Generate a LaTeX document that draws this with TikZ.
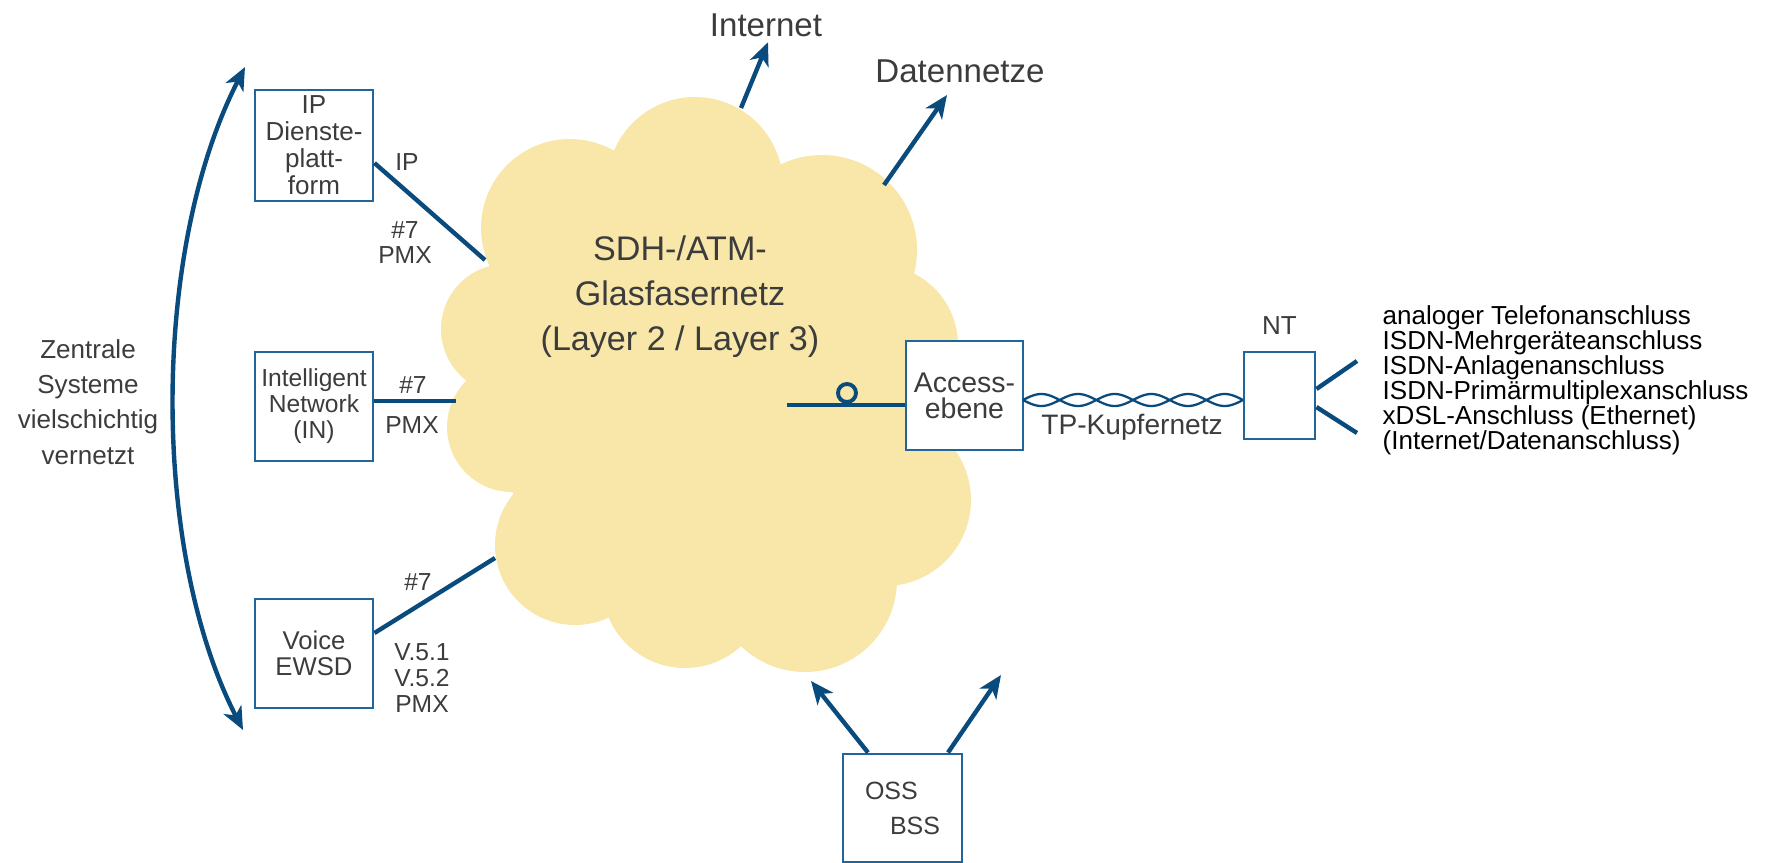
\documentclass[tikz,border=0pt]{standalone}
\usepackage{fontspec}
\setmainfont{Liberation Sans}
\usetikzlibrary{arrows.meta, positioning, calc}
\definecolor{netBlue}{HTML}{0A4B7E}
\definecolor{boxBlue}{HTML}{23649A}
\definecolor{cloudYellow}{HTML}{F8E7A8}
\definecolor{labelGray}{HTML}{3C3C3C}

\begin{document}
\begin{tikzpicture}[
    x=0.01cm, y=-0.01cm,
    box/.style={rectangle, draw=boxBlue, line width=0.8pt, fill=white, minimum width=1.18cm, minimum height=1.09cm, inner sep=0pt, align=center, text=labelGray, font=\fontsize{7.3}{7.5}\selectfont},
    lbl/.style={inner sep=0pt, align=center, text=labelGray, font=\fontsize{7}{7.1}\selectfont},
    head/.style={inner sep=0pt, align=center, text=labelGray, font=\fontsize{9.4}{12.8}\selectfont},
    link/.style={draw=netBlue, line width=1.25pt},
    arrow/.style={link, -{Stealth[length=6.5pt, width=5.6pt, inset=1.8pt]}},
]
    \useasboundingbox (0,0) rectangle (1771,863);

    % Cloud
    \foreach \cx/\cy/\r in {690/400/200, 506/329/65, 512/427/65, 570/228/89, 575/545/80, 695/185/88,
                            822/250/95, 878/345/80, 885/500/86, 805/580/92, 685/585/83}
        \fill[cloudYellow] (\cx,\cy) circle[radius={\r*0.01cm}];
    \node[head, font=\fontsize{9.7}{12.8}\selectfont] (core) at (680,297) {SDH-/ATM-\\Glasfasernetz\\(Layer 2 / Layer 3)};

    % Central systems
    \node[box, minimum height=1.11cm, font=\fontsize{7.4}{7.7}\selectfont] (ipdp) at (314,145.5) {IP\\Dienste-\\platt-\\form};
    \node[box, font=\fontsize{7}{7.4}\selectfont] (intnet) at (314,406.5) {Intelligent\\Network\\(IN)};
    \node[box] (ewsd) at (314,653.5) {Voice\\EWSD};

    \node[lbl, font=\fontsize{7.4}{10}\selectfont] (central) at (88,402) {Zentrale\\Systeme\\vielschichtig\\vernetzt};
    \coordinate (sysTop) at (245,67);
    \coordinate (sysBot) at (243,730);
    \draw[link, {Stealth[length=6.5pt, width=5.6pt, inset=1.8pt]}-{Stealth[length=6.5pt, width=5.6pt, inset=1.8pt]}]
        (sysTop) .. controls (151,250) and (151,551) .. (sysBot);

    % Links into the cloud
    \coordinate (ipEnd) at (485,260);
    \coordinate (inEnd) at (456,401);
    \coordinate (voEnd) at (495,558);
    \draw[link] ([yshift=-0.175cm]ipdp.east) -- (ipEnd);
    \draw[link] (intnet.east |- inEnd) -- (inEnd);
    \draw[link] ([yshift=0.205cm]ewsd.east) -- (voEnd);

    \node[lbl] (ipTag) at (407,162) {IP};
    \node[lbl] (ipSig) at (405,242.5) {\#7\\PMX};
    \node[lbl] (inSig) at (413,385) {\#7};
    \node[lbl] (inPmx) at (412,425) {PMX};
    \node[lbl] (voSig) at (418,582) {\#7};
    \node[lbl, font=\fontsize{7}{7.3}\selectfont] (voPmx) at (422,678) {V.5.1\\V.5.2\\PMX};

    % Outgoing networks
    \node[head] (inet) at (766,25) {Internet};
    \node[head] (data) at (960,71) {Datennetze};
    \coordinate (inetStart) at (741,108);
    \coordinate (dataStart) at (884,185);
    \coordinate (dataTip) at (947,95);
    \draw[arrow] (inetStart) -- ([xshift=0.02cm, yshift=-0.05cm]inet.south);
    \draw[arrow] (dataStart) -- (dataTip);

    % Access side
    \node[box, minimum width=1.17cm, font=\fontsize{8.1}{7.4}\selectfont] (acc) at (964.5,395.5) {Access-\\ebene};
    \coordinate (fib) at (787,405);
    \draw[link] (fib) -- (fib -| acc.west);
    \node[circle, draw=netBlue, line width=1.1pt, minimum size=0.18cm, inner sep=0pt] (spool) at (847,393) {};

    \node[box, minimum width=0.71cm, minimum height=0.87cm] (nt) at (1279.5,395.5) {};
    \node[lbl, font=\fontsize{7.4}{7.4}\selectfont, above=0.15cm of nt] (ntTag) {NT};
    \foreach \s in {1,-1}
        \draw[netBlue, line width=0.65pt] plot[domain=0:220, samples=121, smooth] ({1023+\x},{400+\s*6*sin(\x*4.9091)});
    \node[lbl, font=\fontsize{8}{8}\selectfont] (tp) at (1132,427) {TP-Kupfernetz};

    \coordinate (ntUp) at (1357,361);
    \coordinate (ntDown) at (1357,433);
    \draw[link] ([yshift=0.065cm]nt.east) -- (ntUp);
    \draw[link] ([yshift=-0.115cm]nt.east) -- (ntDown);

    \node[anchor=west, inner sep=0pt, align=left, font=\fontsize{7.4}{7.1}\selectfont] (ports) at (1382,380.5)
        {analoger Telefonanschluss\\ISDN-Mehrgeräteanschluss\\ISDN-Anlagenanschluss\\ISDN-Primärmultiplexanschluss\\xDSL-Anschluss (Ethernet)\\(Internet/Datenanschluss)};

    % Management
    \node[box, minimum width=1.19cm, minimum height=1.08cm, align=left, font=\fontsize{7.1}{10}\selectfont] (oss) at (902.5,808) {OSS\\\hspace*{0.25cm}BSS};
    \coordinate (ossTipL) at (811,681);
    \coordinate (ossTipR) at (1001,675);
    \draw[arrow] ([xshift=-0.345cm]oss.north) -- (ossTipL);
    \draw[arrow] ([xshift=0.455cm]oss.north) -- (ossTipR);
\end{tikzpicture}
\end{document}
